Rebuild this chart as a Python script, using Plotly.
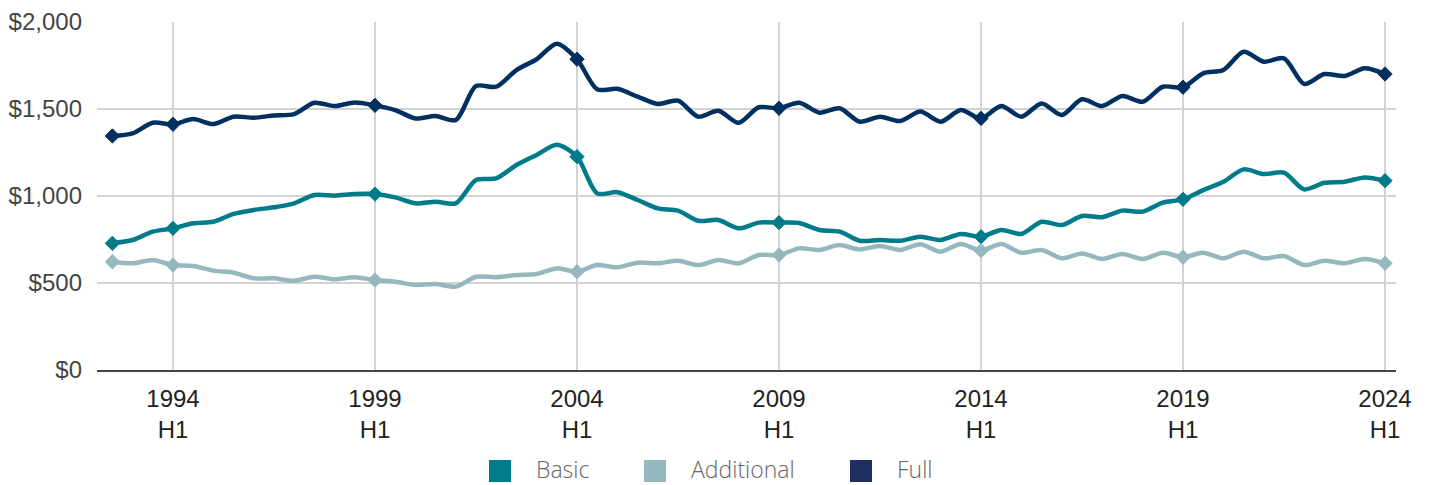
import plotly.graph_objects as go

# Half-year periods, 1992 H2 through 2024 H1
periods = ["1992 H2"] + [f"{y} {h}" for y in range(1993, 2024) for h in ("H1", "H2")] + ["2024 H1"]

basic = [
    728, 747, 795, 814,
    843, 852, 897, 920, 935, 958, 1006, 1002, 1011, 1011,
    992, 958, 967, 958, 1092, 1101, 1178, 1236, 1295, 1226,
    1015, 1022, 977, 929, 916, 858, 862, 814, 847, 847,
    845, 805, 795, 743, 747, 743, 766, 747, 782, 766,
    805, 782, 852, 833, 885, 878, 916, 910, 962, 981,
    1034, 1082, 1153, 1126, 1134, 1038, 1076, 1082, 1107, 1088,
]

additional = [
    622, 613, 632, 603,
    598, 571, 559, 527, 527, 513, 536, 521, 533, 517,
    507, 489, 494, 479, 536, 533, 546, 552, 584, 565,
    603, 590, 617, 613, 628, 603, 632, 613, 661, 661,
    699, 690, 718, 693, 713, 690, 722, 680, 724, 686,
    724, 674, 690, 642, 670, 638, 667, 638, 674, 648,
    674, 642, 680, 642, 655, 603, 628, 613, 638, 613,
]

full = [
    1345, 1360, 1421, 1412,
    1442, 1414, 1456, 1450, 1463, 1471, 1536, 1517, 1538, 1521,
    1494, 1446, 1460, 1437, 1632, 1628, 1724, 1786, 1875, 1786,
    1613, 1616, 1571, 1529, 1548, 1456, 1490, 1421, 1510, 1504,
    1536, 1479, 1504, 1427, 1456, 1431, 1485, 1427, 1494, 1446,
    1517, 1456, 1532, 1466, 1556, 1517, 1575, 1542, 1628, 1625,
    1705, 1724, 1829, 1772, 1791, 1644, 1701, 1690, 1734, 1701,
]

tick_years = [1994, 1999, 2004, 2009, 2014, 2019, 2024]
y_ticks = [0, 500, 1000, 1500, 2000]

series = [
    ("Basic", basic, "#007b8a", "#007b8a"),
    ("Additional", additional, "#95b8be", "#95b8be"),
    ("Full", full, "#00305f", "#1f2f5f"),
]

# plot-area geometry in pixels, used to place the legend row below the axis
L, R, T, B = 97, 33, 22, 115
W, H = 1429, 485
plot_w, plot_h = W - L - R, H - T - B


def period_pos(p):
    year, half = p.split()
    return int(year) + (0.5 if half == "H2" else 0.0)


def px_to_paper(px, py):
    return (px - L) / plot_w, (H - B - py) / plot_h


xs = [period_pos(p) for p in periods]
# diamonds on the first period and on every H1 of the labelled years
mark_sizes = [11 if (i == 0 or (p.endswith("H1") and int(p[:4]) in tick_years)) else 0
              for i, p in enumerate(periods)]

fig = go.Figure()

for name, vals, line_col, leg_col in series:
    fig.add_trace(go.Scatter(
        x=xs, y=vals, mode="lines+markers", name=name,
        line=dict(color=line_col, width=4.5, shape="spline", smoothing=0.8),
        marker=dict(symbol="diamond", size=mark_sizes, color=line_col, opacity=1,
                    line=dict(width=1, color=line_col)),
        showlegend=False, hovertemplate="%{text}: $%{y:,}<extra>" + name + "</extra>",
        text=periods,
    ))

# legend row: square swatch followed by the series name
legend_left = [489, 644, 850]
sw = 22
cy = 471
for (name, vals, line_col, leg_col), lx in zip(series, legend_left):
    x0, y0 = px_to_paper(lx, cy + sw / 2)
    x1, y1 = px_to_paper(lx + sw, cy - sw / 2)
    fig.add_shape(type="rect", xref="paper", yref="paper",
                  x0=x0, x1=x1, y0=y0, y1=y1,
                  fillcolor=leg_col, line=dict(width=0), layer="above")
    tx, ty = px_to_paper(lx + sw + 24, cy - 2)
    fig.add_annotation(x=tx, y=ty, xref="paper", yref="paper",
                       text=name, showarrow=False, xanchor="left", yanchor="middle",
                       borderpad=0,
                       font=dict(family="Open Sans", size=23, color="#666666", weight=300))

fig.update_layout(
    width=W, height=H,
    margin=dict(l=L, r=R, t=T, b=B, autoexpand=False),
    paper_bgcolor="white", plot_bgcolor="white",
    showlegend=False,
    xaxis=dict(
        range=[1992.119, 2024.272],
        tickvals=tick_years,
        ticktext=[f"{y}<br>H1" for y in tick_years],
        showgrid=True, gridcolor="#d3d3d3", gridwidth=1.5,
        showline=True, linecolor="#444444", linewidth=2,
        zeroline=False, ticks="", automargin=False,
        ticklabelstandoff=6,
        tickfont=dict(family="Liberation Sans", size=24, color="#222222"),
    ),
    yaxis=dict(
        range=[0, 2000],
        tickvals=y_ticks,
        ticktext=[f"${v:,}" for v in y_ticks],
        showgrid=True, gridcolor="#d3d3d3", gridwidth=1.5,
        zeroline=False, showline=False, ticks="", automargin=False,
        ticklabelstandoff=14,
        tickfont=dict(family="Liberation Sans", size=24, color="#444444"),
    ),
)

fig.write_html("out.html")
